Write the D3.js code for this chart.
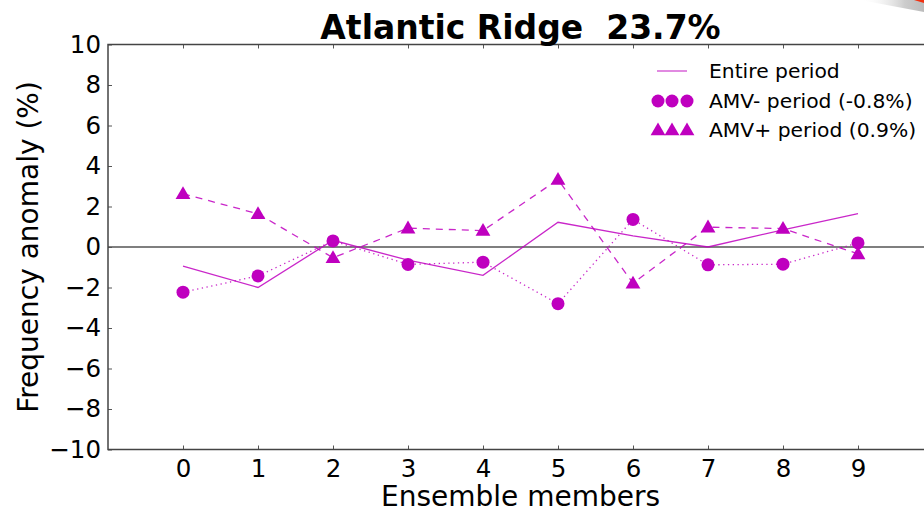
<!DOCTYPE html>
<html><head><meta charset="utf-8">
<script src="https://cdn.jsdelivr.net/npm/d3@7"></script>
<style>
html,body{margin:0;padding:0;background:#fff;}
svg{display:block;font-family:"DejaVu Sans",sans-serif;}
</style></head>
<body>
<svg id="chart" width="924" height="512"></svg>
<script>
const members = [0,1,2,3,4,5,6,7,8,9];
const entirePeriod = [-0.95,-2.0,0.33,-0.65,-1.4,1.22,0.55,0.0,0.85,1.65];
const amvMinus = [-2.23,-1.43,0.3,-0.86,-0.75,-2.8,1.36,-0.88,-0.85,0.2];
const amvPlus = [2.63,1.64,-0.53,0.93,0.81,3.33,-1.79,0.98,0.91,-0.34];
const yTicks = [-10,-8,-6,-4,-2,0,2,4,6,8,10];
const xTicks = [0,1,2,3,4,5,6,7,8,9];
const legendLabels = ["Entire period","AMV- period (-0.8%)","AMV+ period (0.9%)"];
const titleText = "Atlantic Ridge  23.7%";
const xLabel = "Ensemble members";
const yLabel = "Frequency anomaly (%)";

const col = "#bf00bf";
const svg = d3.select("#chart");
const L=108, T=44.5, B=449.5, R=933;
const x = d3.scaleLinear().domain([-1,10]).range([L,R]);
const y = d3.scaleLinear().domain([-10,10]).range([B,T]);

// small artifact in top right corner
const defs = svg.append("defs");
const g1 = defs.append("linearGradient").attr("id","art").attr("x1","0").attr("x2","1").attr("y1","0").attr("y2","0");
g1.append("stop").attr("offset","0").attr("stop-color","#fff").attr("stop-opacity",0);
g1.append("stop").attr("offset","0.7").attr("stop-color","#ccc");
g1.append("stop").attr("offset","1").attr("stop-color","#bbb");
svg.append("path").attr("d","M860,0 L924,0 L924,12 Z").attr("fill","url(#art)");
svg.append("path").attr("d","M914,0 L924,0 L924,3 Z").attr("fill","#f03010");

// zero line
svg.append("line").attr("x1",L).attr("x2",R).attr("y1",y(0)).attr("y2",y(0))
  .attr("stroke","#000").attr("stroke-width",1.2);

// axes
const axStyle = g => {
  g.select(".domain").remove();
  g.selectAll(".tick line").attr("stroke","#555").attr("stroke-width",1);
  g.selectAll("text").attr("fill","#000").style("font-size","24.5px").style("font-family","DejaVu Sans");
};
svg.append("g").attr("transform",`translate(${L},0)`)
  .call(d3.axisLeft(y).tickValues(yTicks).tickSize(-4).tickPadding(7).tickFormat(d=>d<0?"\u2212"+(-d):String(d)))
  .call(axStyle);
svg.append("g").attr("transform",`translate(0,${B})`)
  .call(d3.axisBottom(x).tickValues(xTicks).tickSize(-4).tickPadding(10))
  .call(axStyle);
svg.append("g").attr("transform",`translate(0,${T})`)
  .call(d3.axisTop(x).tickValues(xTicks).tickSize(-4).tickFormat(""))
  .call(axStyle);

// frame
svg.append("path").attr("d",`M${R},${T} L${L},${T} L${L},${B} L${R},${B}`)
  .attr("fill","none").attr("stroke","#444").attr("stroke-width",1.5);

// lines
const line = arr => d3.line().x((d,i)=>x(members[i])).y(d=>y(d))(arr);
svg.append("path").attr("d",line(entirePeriod)).attr("fill","none").attr("stroke",col).attr("stroke-width",1.3).attr("opacity",0.85);
svg.append("path").attr("d",line(amvMinus)).attr("fill","none").attr("stroke",col).attr("stroke-width",1.3).attr("stroke-dasharray","1.3,3.5").attr("opacity",0.85);
svg.append("path").attr("d",line(amvPlus)).attr("fill","none").attr("stroke",col).attr("stroke-width",1.3).attr("stroke-dasharray","7,6").attr("opacity",0.85);

const tri = d3.symbol().type(d3.symbolTriangle).size(95);
svg.append("g").selectAll("circle").data(amvMinus).join("circle")
  .attr("cx",(d,i)=>x(members[i])).attr("cy",d=>y(d)).attr("r",6.5).attr("fill",col);
svg.append("g").selectAll("path").data(amvPlus).join("path")
  .attr("d",tri).attr("transform",(d,i)=>`translate(${x(members[i])},${y(d)+1})`).attr("fill",col);

// legend
const lg = svg.append("g");
const lx = 709, ly = [71,101,130];
lg.append("line").attr("x1",657).attr("x2",687).attr("y1",ly[0]).attr("y2",ly[0]).attr("stroke",col).attr("stroke-width",1.3).attr("opacity",0.7);
[658,672,687].forEach(cx=>{
  lg.append("circle").attr("cx",cx).attr("cy",ly[1]).attr("r",6.5).attr("fill",col);
  lg.append("path").attr("d",tri).attr("transform",`translate(${cx},${ly[2]+1})`).attr("fill",col);
});
lg.selectAll("text").data(legendLabels).join("text")
  .attr("x",lx).attr("y",(d,i)=>ly[i]+7).style("font-size","20.3px").attr("fill","#000").text(d=>d);

// titles
svg.append("text").attr("x",(L+R)/2).attr("y",39).attr("text-anchor","middle")
  .style("white-space","pre").attr("xml:space","preserve")
  .style("font-size","33px").style("font-weight","bold").text(titleText);
svg.append("text").attr("x",(L+R)/2).attr("y",506).attr("text-anchor","middle")
  .style("font-size","28px").text(xLabel);
svg.append("text").attr("transform",`translate(38,${(T+B)/2}) rotate(-90)`).attr("text-anchor","middle")
  .style("font-size","28px").text(yLabel);
</script>
</body></html>
